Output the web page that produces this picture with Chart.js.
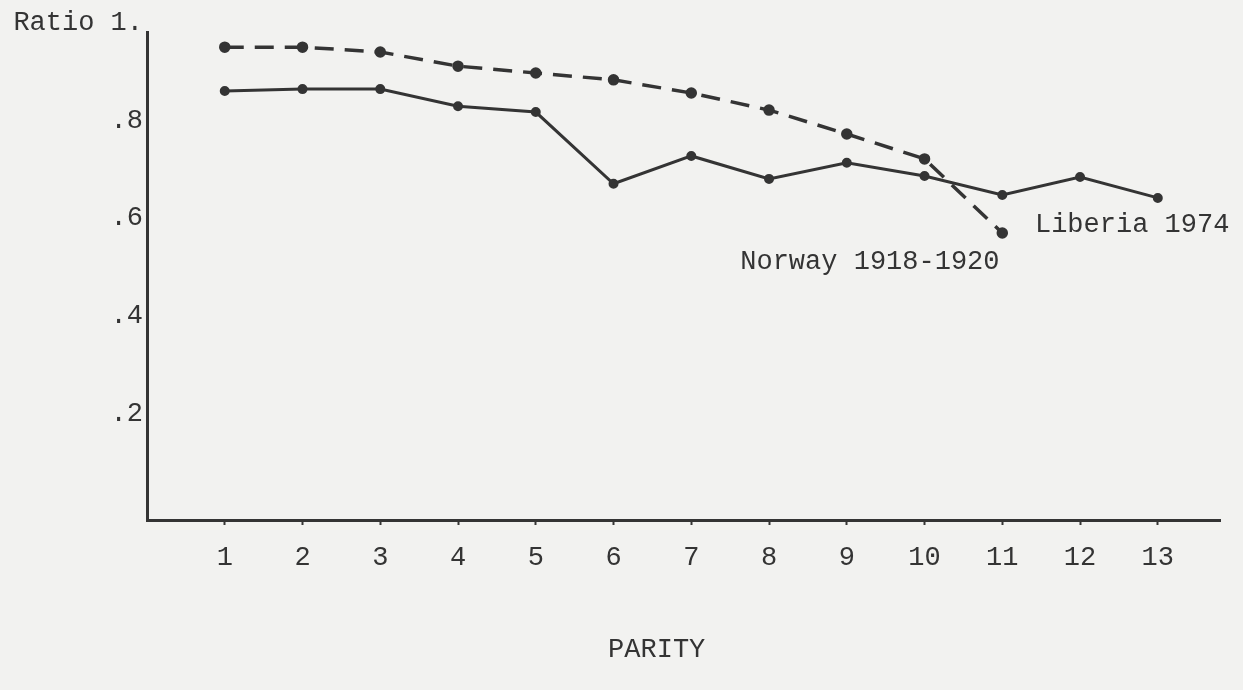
<!DOCTYPE html>
<html>
<head>
<meta charset="utf-8">
<script src="https://cdn.jsdelivr.net/npm/chart.js@4/dist/chart.umd.min.js"></script>
<style>
  html, body { margin: 0; padding: 0; background: #f2f2f0; }
  #wrap { width: 1243px; height: 690px; position: relative; }
</style>
</head>
<body>
<div id="wrap"><canvas id="chart"></canvas></div>
<script>
// parity 1..13
const parity = [1, 2, 3, 4, 5, 6, 7, 8, 9, 10, 11, 12, 13];
const liberia1974 = [0.879, 0.883, 0.883, 0.848, 0.836, 0.689, 0.746, 0.699, 0.732, 0.705, 0.666, 0.703, 0.660];
const norway1918 = [0.969, 0.969, 0.959, 0.930, 0.916, 0.902, 0.875, 0.840, 0.791, 0.740, 0.588];
const yTickLabels = { 0.2: '.2', 0.4: '.4', 0.6: '.6', 0.8: '.8', 1: 'Ratio 1.' };

const ink = '#343434';
const fontStack = '"Liberation Mono", "DejaVu Sans Mono", monospace';
const typeFont = { family: fontStack, size: 27 };

function toPoints(values) {
    return values.map((v, i) => ({ x: parity[i], y: v }));
}

// series names and axis name typed onto the figure
const figureText = {
    id: 'figureText',
    afterDatasetsDraw(chart) {
        const { ctx, scales } = chart;
        ctx.save();
        ctx.fillStyle = ink;
        ctx.font = '27px ' + fontStack;
        ctx.textBaseline = 'middle';
        ctx.fillText('Liberia 1974', scales.x.getPixelForValue(11.42), scales.y.getPixelForValue(0.605));
        ctx.fillText('Norway 1918-1920', scales.x.getPixelForValue(7.63), scales.y.getPixelForValue(0.528));
        ctx.fillText('PARITY', scales.x.getPixelForValue(5.93), 650);
        ctx.restore();
    }
};

const paper = {
    id: 'paper',
    beforeDraw(chart) {
        const ctx = chart.ctx;
        ctx.save();
        ctx.fillStyle = '#f2f2f0';
        ctx.fillRect(0, 0, chart.width, chart.height);
        ctx.restore();
    }
};

const ctx = document.getElementById('chart').getContext('2d');
const chart = new Chart(ctx, {
    type: 'line',
    data: {
        datasets: [{
            label: 'Liberia 1974',
            data: toPoints(liberia1974),
            borderColor: ink,
            backgroundColor: ink,
            borderWidth: 3,
            pointRadius: 3.5,
            tension: 0
        }, {
            label: 'Norway 1918-1920',
            data: toPoints(norway1918),
            borderColor: ink,
            backgroundColor: ink,
            borderWidth: 3.5,
            borderDash: [19, 11],
            pointRadius: 4,
            tension: 0
        }]
    },
    options: {
        responsive: true,
        maintainAspectRatio: false,
        animation: false,
        layout: {
            padding: { left: 0, right: 23, top: 32, bottom: 0 }
        },
        scales: {
            x: {
                type: 'linear',
                min: 0,
                max: 13.8,
                afterFit(scale) { scale.height = 170; },
                afterBuildTicks(scale) {
                    scale.ticks = parity.map(v => ({ value: v }));
                },
                border: { color: ink, width: 3 },
                grid: { display: true, drawOnChartArea: false, drawTicks: true, tickLength: 5, tickWidth: 2, tickColor: ink },
                ticks: {
                    color: ink,
                    font: typeFont,
                    padding: 17,
                    maxRotation: 0,
                    autoSkip: false
                }
            },
            y: {
                min: 0,
                max: 1,
                afterFit(scale) { scale.width = 147; },
                border: { color: ink, width: 3 },
                grid: { display: true, drawOnChartArea: false, drawTicks: false },
                ticks: {
                    stepSize: 0.2,
                    color: ink,
                    font: typeFont,
                    padding: 4,
                    labelOffset: -9,
                    callback: (v) => yTickLabels[Math.round(v * 10) / 10] || ''
                }
            }
        },
        plugins: {
            legend: { display: false },
            tooltip: { enabled: false }
        }
    },
    plugins: [paper, figureText]
});
</script>
</body>
</html>
